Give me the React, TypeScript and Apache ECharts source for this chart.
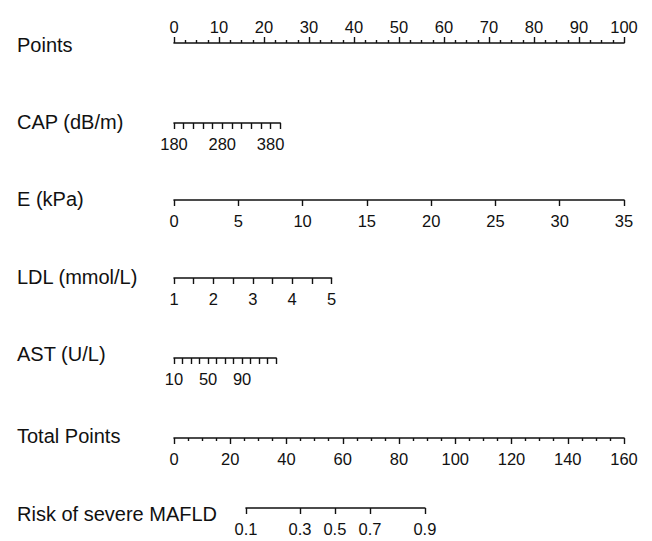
import React, { useEffect, useRef } from "react";
import * as echarts from "echarts";

// ---- Data ----
const rowNames = ["Points", "CAP (dB/m)", "E (kPa)", "LDL (mmol/L)", "AST (U/L)", "Total Points", "Risk of severe MAFLD"];

const pointsRange = [0, 100];
const pointsStep = 10;

const capRange = [180, 400];
const capStep = 20;
const capLabels = [180, 280, 380];
const capMaxPoints = 23.6;

const eRange = [0, 35];
const eStep = 5;
const eMaxPoints = 100;

const ldlRange = [1, 5];
const ldlStep = 0.5;
const ldlLabels = [1, 2, 3, 4, 5];
const ldlMaxPoints = 35;

const astRange = [10, 130];
const astStep = 10;
const astLabels = [10, 50, 90];
const astMaxPoints = 22.7;

const totalRange = [0, 160];
const totalStep = 20;

const riskLabels = [0.1, 0.3, 0.5, 0.7, 0.9];
const riskTotalPoints = [25.6, 44.8, 57.2, 69.7, 89.2];

// ---- Layout ----
const X0 = 174;
const PX_PER_POINT = 4.5; // 450 px for 100 points
const PX_PER_TOTAL = 450 / 160;
const lineY = [43, 123, 200, 278, 358, 438, 508];
const titleY = [45, 122, 199, 277, 354, 436, 514];

const FONT = "'Liberation Sans', Arial, sans-serif";
const INK = "#111111";

function axisBase(position: "top" | "bottom", gridIndex: number) {
  return {
    type: "value" as const,
    gridIndex,
    position,
    axisLine: { show: true, onZero: false, lineStyle: { color: INK, width: 1.6 } },
    axisTick: { show: true, length: 6, lineStyle: { color: INK, width: 1.4 } },
    splitLine: { show: false },
    axisLabel: {
      show: true,
      color: INK,
      fontSize: 16.5,
      fontFamily: FONT,
      margin: position === "top" ? 8 : 12,
    },
  };
}

export default function App() {
  const ref = useRef<HTMLDivElement>(null);

  useEffect(() => {
    if (!ref.current) return;
    const chart = echarts.init(ref.current, null, { renderer: "svg" });

    const widths = [
      (pointsRange[1] - pointsRange[0]) * PX_PER_POINT,
      capMaxPoints * PX_PER_POINT,
      eMaxPoints * PX_PER_POINT,
      ldlMaxPoints * PX_PER_POINT,
      astMaxPoints * PX_PER_POINT,
      (totalRange[1] - totalRange[0]) * PX_PER_TOTAL,
      (riskTotalPoints[riskTotalPoints.length - 1] - riskTotalPoints[0]) * PX_PER_TOTAL,
    ];
    const lefts = [X0, X0, X0, X0, X0, X0, X0 + riskTotalPoints[0] * PX_PER_TOTAL];

    const grids = widths.map((w, i) => ({
      left: lefts[i],
      width: w,
      top: i === 0 ? lineY[i] : lineY[i] - 1,
      height: 1,
      containLabel: false,
    }));

    const pick = (labels: number[]) => (v: number) =>
      labels.some((l) => Math.abs(l - v) < 1e-6) ? String(v) : "";

    const xAxes: any[] = [
      {
        ...axisBase("top", 0),
        min: pointsRange[0],
        max: pointsRange[1],
        interval: pointsStep,
        minorTick: { show: true, splitNumber: 4, length: 3, lineStyle: { color: INK, width: 1.4 } },
      },
      {
        ...axisBase("bottom", 1),
        min: capRange[0],
        max: capRange[1],
        interval: capStep,
        axisLabel: { ...axisBase("bottom", 1).axisLabel, formatter: pick(capLabels) },
      },
      {
        ...axisBase("bottom", 2),
        min: eRange[0],
        max: eRange[1],
        interval: eStep,
      },
      {
        ...axisBase("bottom", 3),
        min: ldlRange[0],
        max: ldlRange[1],
        interval: ldlStep,
        axisLabel: { ...axisBase("bottom", 3).axisLabel, formatter: pick(ldlLabels) },
      },
      {
        ...axisBase("bottom", 4),
        min: astRange[0],
        max: astRange[1],
        interval: astStep,
        axisLabel: { ...axisBase("bottom", 4).axisLabel, formatter: pick(astLabels) },
      },
      {
        ...axisBase("bottom", 5),
        min: totalRange[0],
        max: totalRange[1],
        interval: totalStep,
        minorTick: { show: true, splitNumber: 4, length: 3, lineStyle: { color: INK, width: 1.4 } },
      },
      {
        ...axisBase("bottom", 6),
        min: riskTotalPoints[0],
        max: riskTotalPoints[riskTotalPoints.length - 1],
        axisTick: { ...axisBase("bottom", 6).axisTick, customValues: riskTotalPoints },
        axisLabel: {
          ...axisBase("bottom", 6).axisLabel,
          customValues: riskTotalPoints,
          formatter: (v: number) => {
            const idx = riskTotalPoints.findIndex((p) => Math.abs(p - v) < 1e-6);
            return idx >= 0 ? String(riskLabels[idx]) : "";
          },
        },
      },
    ];

    const yAxes = grids.map((_, i) => ({ type: "value" as const, gridIndex: i, show: false, min: 0, max: 1 }));

    const titles = rowNames.map((name, i) => ({
      type: "text",
      left: 17,
      top: titleY[i] - 10,
      style: { text: name, fill: INK, font: `20px ${FONT}` },
    }));

    chart.setOption({
      animation: false,
      backgroundColor: "#ffffff",
      grid: grids,
      xAxis: xAxes,
      yAxis: yAxes,
      series: [],
      graphic: titles,
    });

    return () => chart.dispose();
  }, []);

  return (
    <div
      ref={ref}
      style={{ position: "fixed", left: 0, top: 0, width: 652, height: 541, background: "#fff" }}
    />
  );
}
